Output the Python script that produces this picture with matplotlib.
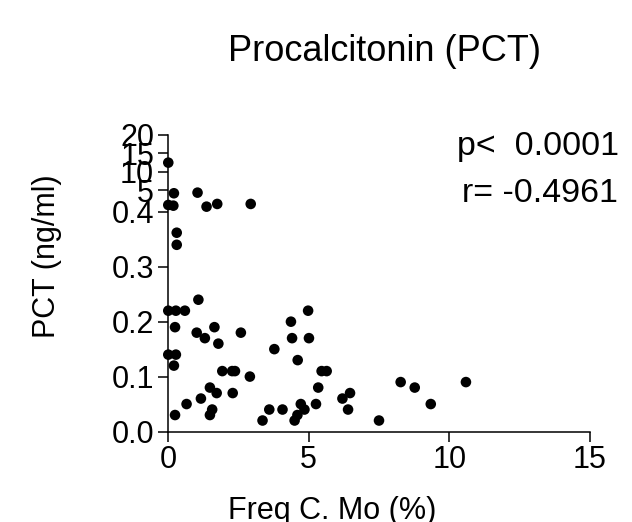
import numpy as np
import matplotlib
matplotlib.use('Agg')
import matplotlib.pyplot as plt

plt.rcParams['font.family'] = ['Liberation Sans', 'DejaVu Sans']

# ---- data ----
freq_c_mo = [0.01, 0.21, 1.05, 0.01, 0.19, 1.37, 1.75, 2.94,
             0.31, 0.31,
             0.01, 0.28, 0.60, 1.08, 0.25, 0.01, 0.28, 0.21, 0.25, 0.66,
             1.02, 1.31, 1.65, 1.79, 1.17, 1.49, 1.73, 1.57, 1.49, 1.93,
             2.28, 2.38, 2.30, 2.59, 2.91, 3.36, 3.60, 3.78, 4.07, 4.37,
             4.41, 4.61, 4.50, 4.60, 4.72, 4.85, 4.98, 5.01, 5.26, 5.34,
             5.46, 5.64, 6.20, 6.47, 6.40, 7.50, 8.27, 8.77, 9.34, 10.59]
pct = [12.47, 4.13, 4.30, 0.94, 0.75, 0.48, 1.22, 1.22,
       0.362, 0.340,
       0.22, 0.22, 0.22, 0.24, 0.19, 0.14, 0.14, 0.12, 0.03, 0.05,
       0.18, 0.17, 0.19, 0.16, 0.06, 0.08, 0.07, 0.04, 0.03, 0.11,
       0.11, 0.11, 0.07, 0.18, 0.10, 0.02, 0.04, 0.15, 0.04, 0.20,
       0.17, 0.13, 0.02, 0.03, 0.05, 0.04, 0.22, 0.17, 0.05, 0.08,
       0.11, 0.11, 0.06, 0.07, 0.04, 0.02, 0.09, 0.08, 0.05, 0.09]

x_ticks = [0, 5, 10, 15]
y_ticks = [0, 0.1, 0.2, 0.3, 0.4, 5, 10, 15, 20]
y_tick_labels = ['0.0', '0.1', '0.2', '0.3', '0.4', '5', '10', '15', '20']

title = 'Procalcitonin (PCT)'
x_label = 'Freq C. Mo (%)'
y_label = 'PCT (ng/ml)'
p_text = 'p<  0.0001'
r_text = 'r= -0.4961'

# ---- segmented y axis (two linear segments) ----
BREAK = 0.4
LOW = 549.0
GAP = 4.9
HIGH = 3.67


def fwd(y):
    y = np.asarray(y, dtype=float)
    return np.where(y <= BREAK, y * LOW, BREAK * LOW + GAP + (y - BREAK) * HIGH)


def inv(s):
    s = np.asarray(s, dtype=float)
    b = BREAK * LOW
    return np.where(s <= b, s / LOW,
                    np.where(s < b + GAP, BREAK, BREAK + (s - b - GAP) / HIGH))


W, H = 632, 522
fig = plt.figure(figsize=(W / 100, H / 100), dpi=100)
ax = fig.add_axes([168 / W, (H - 431.5) / H, (590 - 168) / W, (431.5 - 135) / H])

ax.set_yscale('function', functions=(fwd, inv))
ax.scatter(freq_c_mo, pct, s=58, color='black', edgecolors='none', clip_on=False, zorder=3)

ax.set_xlim(0, 15)
ax.set_ylim(0, 20)
ax.set_xticks(x_ticks)
ax.set_xticklabels([str(t) for t in x_ticks])
ax.set_yticks(y_ticks)
ax.set_yticklabels(y_tick_labels)
ax.minorticks_off()

for side in ('top', 'right'):
    ax.spines[side].set_visible(False)
for side in ('left', 'bottom'):
    ax.spines[side].set_linewidth(1.1)
ax.tick_params(axis='both', direction='out', length=7.5, width=1.1, labelsize=22, colors='black')
ax.tick_params(axis='x', pad=2)
ax.tick_params(axis='y', pad=2.5)

fig.text(228 / W, 1 - 60.7 / H, title, fontsize=26, ha='left', va='baseline')
fig.text(228 / W, 1 - 519 / H, x_label, fontsize=22, ha='left', va='baseline')
fig.text(55 / W, 1 - 338 / H, y_label, fontsize=22, rotation=90, rotation_mode='anchor',
         ha='left', va='baseline')
fig.text(457 / W, 1 - 155 / H, p_text, fontsize=24.5, ha='left', va='baseline')
fig.text(461.5 / W, 1 - 201.7 / H, r_text, fontsize=24.5, ha='left', va='baseline')

fig.savefig('out.png', dpi=100)
